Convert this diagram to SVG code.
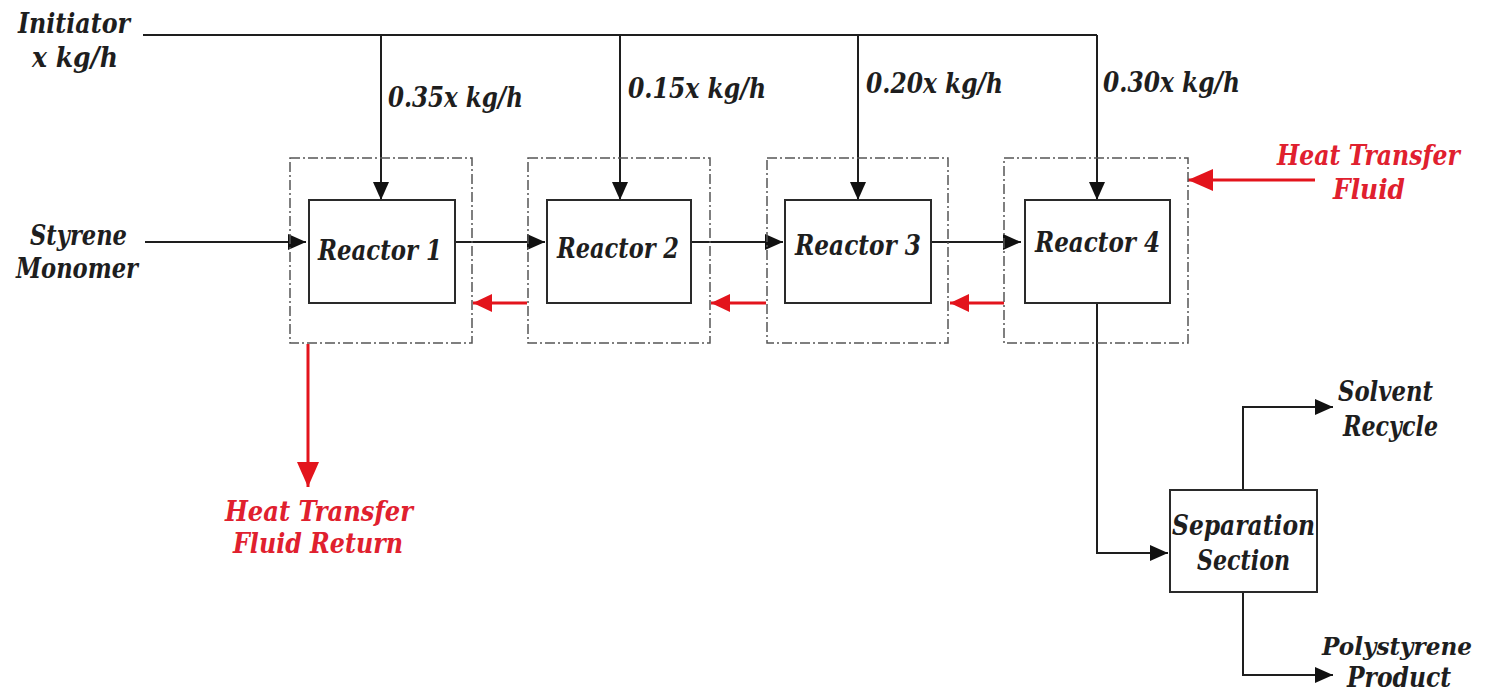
<svg xmlns="http://www.w3.org/2000/svg" width="1486" height="695" viewBox="0 0 1486 695">
<style>
.t{font-family:"DejaVu Serif","Liberation Serif",serif;font-weight:bold;font-style:italic;font-size:27px;fill:#1e1e1e}
.r{fill:#e0202e}
.box{fill:#fff;stroke:#2a2a2a;stroke-width:2}
.dash{fill:none;stroke:#555;stroke-width:1.5;stroke-dasharray:10 3 2 3}
.ln{fill:none;stroke:#1e1e1e;stroke-width:2}
.rl{fill:none;stroke:#e3141c;stroke-width:3}
</style>
<defs>
<marker id="ab" markerUnits="userSpaceOnUse" markerWidth="20" markerHeight="16" refX="18" refY="8" orient="auto"><path d="M0,0 L18,8 L0,16 Z" fill="#111"/></marker>
<marker id="ar" markerUnits="userSpaceOnUse" markerWidth="20" markerHeight="18" refX="19" refY="9" orient="auto"><path d="M0,0 L19,9 L0,18 Z" fill="#e3141c"/></marker>
<marker id="arL" markerUnits="userSpaceOnUse" markerWidth="26" markerHeight="22" refX="25" refY="11" orient="auto"><path d="M0,0 L25,11 L0,22 Z" fill="#e3141c"/></marker>
</defs>
<rect width="1486" height="695" fill="#fff"/>

<g id="connectors">
<polyline class="ln" points="143,35 1097,35"/>
<line class="ln" x1="381" y1="35" x2="381" y2="200" marker-end="url(#ab)"/>
<line class="ln" x1="620" y1="35" x2="620" y2="200" marker-end="url(#ab)"/>
<line class="ln" x1="858" y1="35" x2="858" y2="200" marker-end="url(#ab)"/>
<line class="ln" x1="1097" y1="35" x2="1097" y2="200" marker-end="url(#ab)"/>
<line class="ln" x1="145" y1="242" x2="306" y2="242" marker-end="url(#ab)"/>
<line class="ln" x1="455" y1="242" x2="545" y2="242" marker-end="url(#ab)"/>
<line class="ln" x1="691" y1="242" x2="783" y2="242" marker-end="url(#ab)"/>
<line class="ln" x1="931" y1="242" x2="1021" y2="242" marker-end="url(#ab)"/>
<line class="rl" x1="527" y1="303" x2="473" y2="303" marker-end="url(#ar)"/>
<line class="rl" x1="766" y1="303" x2="711" y2="303" marker-end="url(#ar)"/>
<line class="rl" x1="1004" y1="303" x2="950" y2="303" marker-end="url(#ar)"/>
<line class="rl" x1="1315" y1="180" x2="1188" y2="180" marker-end="url(#arL)"/>
<line class="rl" x1="308" y1="344" x2="308" y2="487" marker-end="url(#arL)"/>
<polyline class="ln" points="1097,303 1097,553 1168,553" marker-end="url(#ab)"/>
<polyline class="ln" points="1243,490 1243,407 1333,407" marker-end="url(#ab)"/>
<polyline class="ln" points="1243,592 1243,675 1333,675" marker-end="url(#ab)"/>
</g>

<g id="reactor1">
<rect class="dash" x="290" y="158" width="182" height="185"/>
<rect class="box" x="309" y="200" width="146" height="103"/>
<text class="t" x="318" y="260" textLength="124" lengthAdjust="spacingAndGlyphs">Reactor 1</text>
</g>
<g id="reactor2">
<rect class="dash" x="528" y="158" width="182" height="185"/>
<rect class="box" x="547" y="200" width="144" height="103"/>
<text class="t" x="557" y="258" textLength="122" lengthAdjust="spacingAndGlyphs">Reactor 2</text>
</g>
<g id="reactor3">
<rect class="dash" x="767" y="158" width="181" height="185"/>
<rect class="box" x="785" y="200" width="146" height="103"/>
<text class="t" x="795" y="255" textLength="126" lengthAdjust="spacingAndGlyphs">Reactor 3</text>
</g>
<g id="reactor4">
<rect class="dash" x="1004" y="158" width="184" height="185"/>
<rect class="box" x="1025" y="200" width="145" height="103"/>
<text class="t" x="1035" y="252" textLength="125" lengthAdjust="spacingAndGlyphs">Reactor 4</text>
</g>
<g id="separation">
<rect class="box" x="1170" y="490" width="147" height="102"/>
<text class="t" x="1172" y="535" textLength="143" lengthAdjust="spacingAndGlyphs">Separation</text>
<text class="t" x="1197" y="570" textLength="93" lengthAdjust="spacingAndGlyphs">Section</text>
</g>

<g id="labels">
<text class="t" x="18" y="33" textLength="112" lengthAdjust="spacingAndGlyphs">Initiator</text>
<text class="t" x="32" y="67" textLength="86" lengthAdjust="spacingAndGlyphs">x kg/h</text>
<text class="t" x="30" y="245" textLength="97" lengthAdjust="spacingAndGlyphs">Styrene</text>
<text class="t" x="16" y="278" textLength="122" lengthAdjust="spacingAndGlyphs">Monomer</text>
<text class="t" x="388" y="107" textLength="135" lengthAdjust="spacingAndGlyphs">0.35x kg/h</text>
<text class="t" x="628" y="98" textLength="138" lengthAdjust="spacingAndGlyphs">0.15x kg/h</text>
<text class="t" x="866" y="93" textLength="137" lengthAdjust="spacingAndGlyphs">0.20x kg/h</text>
<text class="t" x="1103" y="92" textLength="137" lengthAdjust="spacingAndGlyphs">0.30x kg/h</text>
<text class="t r" x="1277" y="165" textLength="183" lengthAdjust="spacingAndGlyphs">Heat Transfer</text>
<text class="t r" x="1333" y="199" textLength="72" lengthAdjust="spacingAndGlyphs">Fluid</text>
<text class="t r" x="225" y="521" textLength="188" lengthAdjust="spacingAndGlyphs">Heat Transfer</text>
<text class="t r" x="233" y="553" textLength="170" lengthAdjust="spacingAndGlyphs">Fluid Return</text>
<text class="t" x="1338" y="401" textLength="95" lengthAdjust="spacingAndGlyphs">Solvent</text>
<text class="t" x="1343" y="436" textLength="95" lengthAdjust="spacingAndGlyphs">Recycle</text>
<text class="t" x="1322" y="655" style="font-size:24px" textLength="150" lengthAdjust="spacingAndGlyphs">Polystyrene</text>
<text class="t" x="1347" y="687" textLength="104" lengthAdjust="spacingAndGlyphs">Product</text>
</g>
</svg>
